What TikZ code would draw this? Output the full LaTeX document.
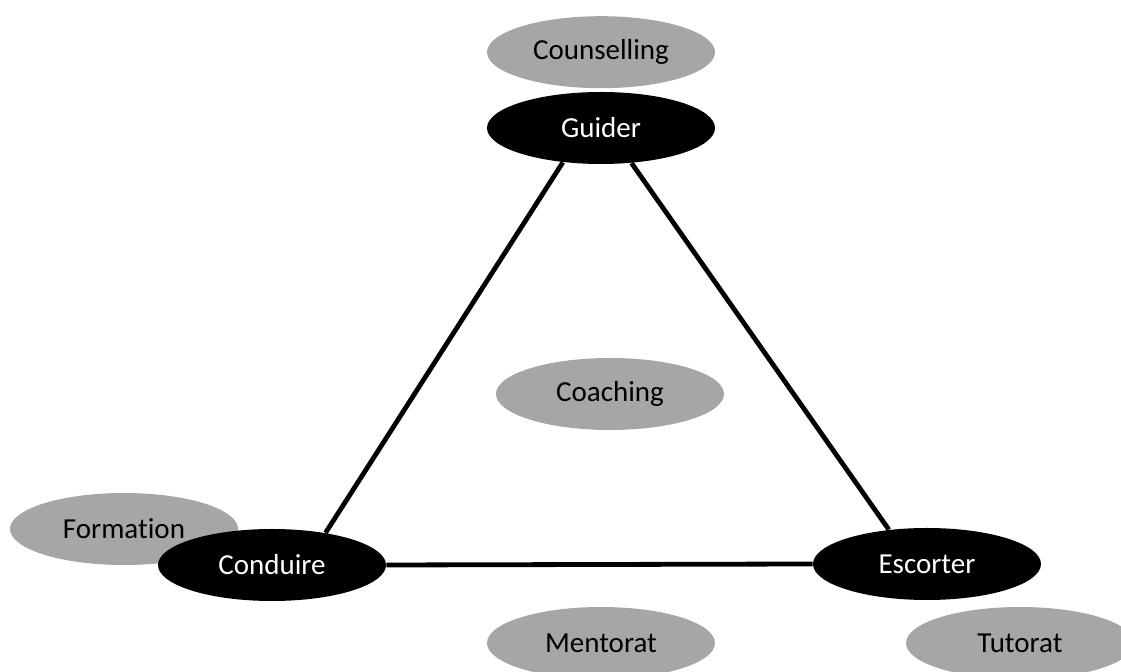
\documentclass[tikz,border=0pt]{standalone}
\usepackage{fontspec}
\setmainfont{Carlito}[Ligatures=NoCommon]
\usepackage{tikz}
\usetikzlibrary{positioning,shapes.geometric}
\definecolor{lightgrey}{HTML}{A6A6A6}

\begin{document}
\begin{tikzpicture}[x=0.5pt,y=-0.5pt,
    every node/.style={ellipse,minimum width=114pt,minimum height=36pt,inner sep=0pt,
                       font=\fontsize{14.5}{17}\selectfont},
    verb/.style={fill=black,text=white},
    field/.style={fill=lightgrey,text=black},
    link/.style={line width=2.4pt}]
    \clip (0,0) rectangle (1121,672);
    \node[verb] (guider) at (601,128) {Guider};
    \node[field] (counselling) [above=1.5pt of guider] {Counselling};
    \node[field] (coaching) at (610,394) {Coaching};
    \node[field] (formation) at (124,529) {Formation};
    \node[verb] (conduire) at (272,565) {Conduire};
    \node[verb] (escorter) at (927,564) {Escorter};
    \node[field] (mentorat) at (601,643) {Mentorat};
    \node[field] (tutorat) at (1020,643) {Tutorat};
    \path (guider.222) edge[link] (conduire.31)
          (guider.311) edge[link] (escorter.138)
          (conduire.east) edge[link] (escorter.west);
\end{tikzpicture}
\end{document}
